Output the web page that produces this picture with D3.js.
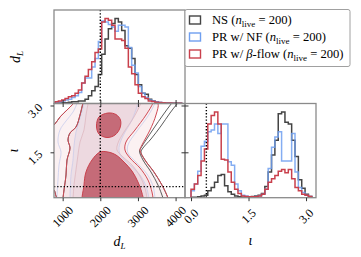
<!DOCTYPE html>
<html><head><meta charset="utf-8">
<script src="https://cdn.jsdelivr.net/npm/d3@7"></script>
<style>
body{margin:0;background:#fff}
svg{display:block}
text{font-family:"Liberation Serif","Times New Roman",serif;fill:#000}
</style>
</head><body>
<svg id="c" width="361" height="257"></svg>
<script>
// ---------------- data ----------------
const seriesNames = ["NS", "PR w/ NF", "PR w/ β-flow"];
const seriesColors = ["#444444", "#6f9ff0", "#c9404c"];
const nLive = 200;

// d_L marginal histograms (relative heights), bins start 798, width 88.5
const dLBinStart = 798, dLBinWidth = 88.5;
const dLBlack = [0.5,0.5,1,1,1.5,2,2,3,3,5,9,15,20,34,58,76,88,94,100,96,86,68,65,53,34,22,12,11,5,3,2,1,1,0.5,0.5,0.4,0.3,0.2];
const dLBlue  = [1,2,3,4,5,7,9,13,24,30,30,43,53,73,97,96,93,90,85,92,92,90,66,45,36,20,12,7,4,3,2,1.5,1,0.8,0.5,0.4,0.3,0.2];
const dLRed   = [2,3,4,6,8,9,12,16,24,32,40,49,60,64,96,100,98,92,76,76,74,65,43,35,22,12,8,6,3,2.4,1.6,1.2,1,0.6,0.5,0.4,0.3,0.2];

// iota marginal histograms, bins start 0, width 0.0875
const iotaBinStart = 0, iotaBinWidth = 0.0875;
const iotaBlack = [0.5,0.5,1,2,3,8,12,18,26,27,14,7,4,2,1,0.5,0.5,1,1.5,2,3,5,13,30,50,67,98,100,88,86,67,48,21,11,4,1.5];
const iotaBlue  = [8,16,31,60,66,77,79,86,75,86,86,42,38,16,8,3,2,1,1,1.5,2,4,10,34,59,71,77,43,43,43,75,30,12,6,3,1.5];
const iotaRed   = [10,16,26,43,57,86,96,100,86,45,44,30,18,10,5,2,1.5,1,1,1,2,4,10,18,22,26,31,33,29,33,22,12,8,4,3,1.5];

const dLTicks = [1000, 2000, 3000, 4000];
const iotaTicks2D = [1.5, 3.0];
const iotaTicksHist = [0.0, 1.5, 3.0];
const dLTrue = 2000, iotaTrue = 0.4;

// 2D contours (d_L, iota), red = PR w/ beta-flow
const redL1 = [[558,2.214],[770,2.375],[929,2.631],[1115,2.855],[1275,3.048],[1407,3.24],[3320,3.34],[3532,3.08],[3479,2.695],[3320,2.214],[3107,1.734],[3054,1.573],[3187,1.253],[3426,0.868],[3638,0.452],[3798,0.035],[3851,-0.19],[929,-0.19],[823,0.10],[770,0.291],[558,0.45]];
const redL2 = [[1593,3.304],[1540,3.08],[1461,2.695],[1354,2.311],[1195,2.118],[1142,1.894],[1195,1.638],[1115,1.253],[1089,0.772],[1036,0.291],[1009,0.035],[982,-0.221],[3426,-0.221],[3400,0.035],[3373,0.227],[3267,0.612],[3054,0.997],[2789,1.317],[2656,1.573],[2682,1.83],[2921,2.214],[3214,2.695],[3400,3.08],[3453,3.304]];
const redL3 = [[1673,3.304],[1673,3.08],[1620,2.695],[1567,2.214],[1461,1.83],[1407,1.413],[1354,0.932],[1301,0.452],[1275,0.035],[1248,-0.221],[3267,-0.221],[3240,0.035],[3187,0.356],[3054,0.74],[2842,1.093],[2576,1.381],[2443,1.573],[2470,1.798],[2629,2.15],[2895,2.631],[3080,3.08],[3134,3.304]];
const redL4Upper = [[2204,2.759],[2417,2.711],[2536,2.535],[2523,2.279],[2390,2.054],[2178,1.974],[1965,2.086],[1899,2.343],[1965,2.631]];
const redL4Lower = [[1567,-0.221],[1567,0.452],[1620,0.868],[1779,1.253],[1992,1.509],[2204,1.509],[2417,1.413],[2629,1.189],[2842,0.9],[3001,0.548],[3107,0.195],[3134,-0.221]];
// blue = PR w/ NF
const blueL2 = [[1407,3.304],[1381,3.08],[1275,2.791],[1089,2.503],[929,2.214],[876,1.83],[956,1.509],[903,1.093],[876,0.612],[850,0.035],[850,-0.221],[3479,-0.221],[3453,0.035],[3400,0.42],[3240,0.804],[2948,1.189],[2735,1.477],[2735,1.734],[2974,2.182],[3267,2.663],[3453,3.08],[3506,3.304]];
const blueL3 = [[1567,3.304],[1567,3.08],[1461,2.599],[1354,2.15],[1301,1.702],[1275,1.253],[1222,0.772],[1195,0.035],[1195,-0.221],[3320,-0.221],[3293,0.035],[3214,0.42],[3054,0.772],[2789,1.093],[2549,1.381],[2496,1.638],[2602,2.022],[2842,2.535],[3001,3.08],[3054,3.304]];
// black = NS
const blackL1 = [[4249,3.304],[4050,3.064],[3851,2.759],[3612,2.343],[3346,1.926],[3134,1.638],[3080,1.509],[3187,1.253],[3426,0.868],[3638,0.452],[3798,0.035],[3851,-0.19],[929,-0.19],[823,0.10],[770,0.291],[558,0.45],[558,2.214],[770,2.375],[929,2.631],[1115,2.855],[1275,3.048],[1407,3.24]];
const blackL2 = [[4063,3.304],[3891,3.064],[3665,2.695],[3426,2.279],[3214,1.894],[3080,1.638],[3041,1.541],[3134,1.253],[3346,0.868],[3532,0.452],[3665,0.035],[3718,-0.19],[982,-0.221],[1009,0.035],[1036,0.291],[1089,0.772],[1115,1.253],[1195,1.638],[1142,1.894],[1195,2.118],[1354,2.311],[1461,2.695],[1540,3.08],[1593,3.304]];

// ---------------- layout ----------------
const svg = d3.select("#c");
const P = {l:54, r:185, r2:316, t:10, m:103.5, b:197.7};

const xD  = d3.scaleLinear().domain([770, 4250]).range([P.l, P.r]);
const yI  = d3.scaleLinear().domain([0.045, 3.064]).range([P.b, P.m]);
const xI  = d3.scaleLinear().domain([-0.157, 3.26]).range([P.r, P.r2]);
const yH1 = d3.scaleLinear().domain([0, 110]).range([P.m, P.t]);
const yH2 = d3.scaleLinear().domain([0, 110]).range([P.b, P.m]);

const defs = svg.append("defs");
function clip(id, x, y, w, h){ defs.append("clipPath").attr("id", id).append("rect").attr("x",x).attr("y",y).attr("width",w).attr("height",h); }
clip("c2d", P.l, P.m, P.r-P.l, P.b-P.m);
clip("ch1", P.l, P.t, P.r-P.l, P.m-P.t);
clip("ch2", P.r, P.m, P.r2-P.r, P.b-P.m);

// ---------------- 2D contours ----------------
const g2 = svg.append("g").attr("clip-path", "url(#c2d)");
const cl = d3.line().x(d=>xD(d[0])).y(d=>yI(d[1])).curve(d3.curveCatmullRomClosed.alpha(0.5));

g2.append("path").attr("d", cl(redL1)).attr("fill", "#fbf1f2");
g2.append("path").attr("d", cl(redL2)).attr("fill", "#f6e5e8");
g2.append("path").attr("d", cl(blueL3)).attr("fill", "rgba(120,135,215,0.07)");
g2.append("path").attr("d", cl(redL3)).attr("fill", "#edd9e0");
// faint lines of the other runs
g2.append("path").attr("d", cl(blueL2)).attr("fill","none").attr("stroke","#c8cdec").attr("stroke-width",0.8);
g2.append("path").attr("d", cl(blueL3)).attr("fill","none").attr("stroke","#cccbe8").attr("stroke-width",0.8);
g2.append("path").attr("d", cl(blackL2)).attr("fill","none").attr("stroke","#4a4a4a").attr("stroke-width",0.9);
g2.append("path").attr("d", cl(blackL1)).attr("fill","none").attr("stroke","#4a4a4a").attr("stroke-width",0.9);
g2.append("path").attr("d", cl(redL3)).attr("fill","none").attr("stroke","#dcb3bc").attr("stroke-width",0.7);
[redL4Upper, redL4Lower].forEach(c => g2.append("path").attr("d", cl(c)).attr("fill", "#c56b78").attr("stroke", "#c8404c").attr("stroke-width", 1));
g2.append("path").attr("d", cl(redL2)).attr("fill","none").attr("stroke","#cf4a55").attr("stroke-width",1);
g2.append("path").attr("d", cl(redL1)).attr("fill","none").attr("stroke","#cf4a55").attr("stroke-width",1);

// ---------------- histograms ----------------
function stepPts(vals, start, width){
  const pts = [[start, 0]];
  vals.forEach((v,i) => pts.push([start + i*width, v]));
  pts.push([start + vals.length*width, 0]);
  return pts;
}
const gh1 = svg.append("g").attr("clip-path", "url(#ch1)");
const lh1 = d3.line().x(d=>xD(d[0])).y(d=>yH1(d[1])).curve(d3.curveStepAfter);
[dLBlack, dLBlue, dLRed].forEach((s,i) => gh1.append("path").attr("d", lh1(stepPts(s, dLBinStart, dLBinWidth)))
  .attr("fill","none").attr("stroke", seriesColors[i]).attr("stroke-width", 1.5).attr("stroke-opacity", i==1?0.85:1));

const gh2 = svg.append("g").attr("clip-path", "url(#ch2)");
const lh2 = d3.line().x(d=>xI(d[0])).y(d=>yH2(d[1])).curve(d3.curveStepAfter);
[iotaBlack, iotaBlue, iotaRed].forEach((s,i) => gh2.append("path").attr("d", lh2(stepPts(s, iotaBinStart, iotaBinWidth)))
  .attr("fill","none").attr("stroke", seriesColors[i]).attr("stroke-width", 1.5).attr("stroke-opacity", i==1?0.85:1));

// ---------------- truth lines ----------------
const dot = g => g.attr("stroke","#000").attr("stroke-width",1.4).attr("stroke-dasharray","1.3,1.9").attr("fill","none");
svg.append("line").attr("x1", xD(dLTrue)).attr("x2", xD(dLTrue)).attr("y1", P.t).attr("y2", P.b).call(dot);
svg.append("line").attr("x1", P.l).attr("x2", P.r).attr("y1", yI(iotaTrue)).attr("y2", yI(iotaTrue)).call(dot);
svg.append("line").attr("x1", xI(iotaTrue)).attr("x2", xI(iotaTrue)).attr("y1", P.m).attr("y2", P.b).call(dot);

// ---------------- frames ----------------
const frame = "#8a8a8a";
[[P.l,P.t,P.r,P.m],[P.l,P.m,P.r,P.b],[P.r,P.m,P.r2,P.b]].forEach(f =>
  svg.append("rect").attr("x",f[0]).attr("y",f[1]).attr("width",f[2]-f[0]).attr("height",f[3]-f[1])
    .attr("fill","none").attr("stroke",frame).attr("stroke-width",1.3));

// ---------------- axes / ticks ----------------
function ticksOnly(g){ g.select(".domain").remove(); g.selectAll("text").remove(); g.selectAll("line").attr("stroke","#333").attr("stroke-width",1); }
svg.append("g").attr("transform",`translate(0,${P.b})`).call(d3.axisBottom(xD).tickValues(dLTicks).tickSize(3.5)).call(ticksOnly);
svg.append("g").attr("transform",`translate(0,${P.m})`).call(d3.axisBottom(xD).tickValues(dLTicks).tickSize(3.5)).call(ticksOnly);
svg.append("g").attr("transform",`translate(0,${P.m})`).call(d3.axisTop(xD).tickValues(dLTicks).tickSize(3.5)).call(ticksOnly);
svg.append("g").attr("transform",`translate(${P.l},0)`).call(d3.axisLeft(yI).tickValues(iotaTicks2D).tickSize(3.5)).call(ticksOnly);
svg.append("g").attr("transform",`translate(${P.r},0)`).call(d3.axisLeft(yI).tickValues(iotaTicks2D).tickSize(3.5)).call(ticksOnly);
svg.append("g").attr("transform",`translate(${P.r},0)`).call(d3.axisRight(yI).tickValues(iotaTicks2D).tickSize(3.5)).call(ticksOnly);
svg.append("g").attr("transform",`translate(0,${P.b})`).call(d3.axisBottom(xI).tickValues(iotaTicksHist).tickSize(3.5)).call(ticksOnly);

// tick labels (rotated)
const fs = 12;
dLTicks.forEach(t => svg.append("text").attr("transform",`translate(${xD(t)},216.5) rotate(-45)`)
  .attr("text-anchor","middle").attr("dy","0.35em").attr("font-size",fs).text(d3.format("d")(t)));
iotaTicksHist.forEach(t => svg.append("text").attr("transform",`translate(${xI(t)},216) rotate(-45)`)
  .attr("text-anchor","middle").attr("dy","0.35em").attr("font-size",fs).text(d3.format(".1f")(t)));
iotaTicks2D.forEach(t => svg.append("text").attr("transform",`translate(35,${yI(t)+5}) rotate(-45)`)
  .attr("text-anchor","middle").attr("dy","0.35em").attr("font-size",fs).text(d3.format(".1f")(t)));

// axis labels
function dLLabel(sel){
  sel.append("tspan").attr("font-style","italic").text("d");
  sel.append("tspan").attr("font-style","italic").attr("font-size",9).attr("dy",3).text("L");
}
svg.append("text").attr("x",(P.l+P.r)/2).attr("y",246).attr("text-anchor","middle").attr("font-size",14).call(dLLabel);
svg.append("text").attr("transform","translate(20,57) rotate(-90)").attr("text-anchor","middle").attr("font-size",14).call(dLLabel);
svg.append("text").attr("x",(P.r+P.r2)/2).attr("y",245).attr("text-anchor","middle").attr("font-size",14).attr("font-style","italic").text("ι");
svg.append("text").attr("transform",`translate(18,${(P.m+P.b)/2}) rotate(-90)`).attr("text-anchor","middle").attr("font-size",14).attr("font-style","italic").text("ι");

// ---------------- legend ----------------
const lg = svg.append("g");
lg.append("rect").attr("x",185).attr("y",9.5).attr("width",165).attr("height",57).attr("rx",2)
  .attr("fill","#fff").attr("stroke","#a0a0a0").attr("stroke-width",1);
const rowY = [20, 37, 54];
seriesNames.forEach((name,i) => {
  lg.append("rect").attr("x",189.5).attr("y",rowY[i]-4).attr("width",11).attr("height",8)
    .attr("fill","none").attr("stroke",seriesColors[i]).attr("stroke-width",1.4);
  const t = lg.append("text").attr("x",212).attr("y",rowY[i]+4).attr("font-size",12.6);
  if (name.includes("β")) {
    t.append("tspan").text("PR w/ ");
    t.append("tspan").attr("font-style","italic").text("β");
    t.append("tspan").text("-flow (");
  } else {
    t.append("tspan").text(name + " (");
  }
  t.append("tspan").attr("font-style","italic").text("n");
  t.append("tspan").attr("font-size",9).attr("dy",2.5).text("live");
  t.append("tspan").attr("dy",-2.5).text(" = " + nLive + ")");
});
</script>
</body></html>
